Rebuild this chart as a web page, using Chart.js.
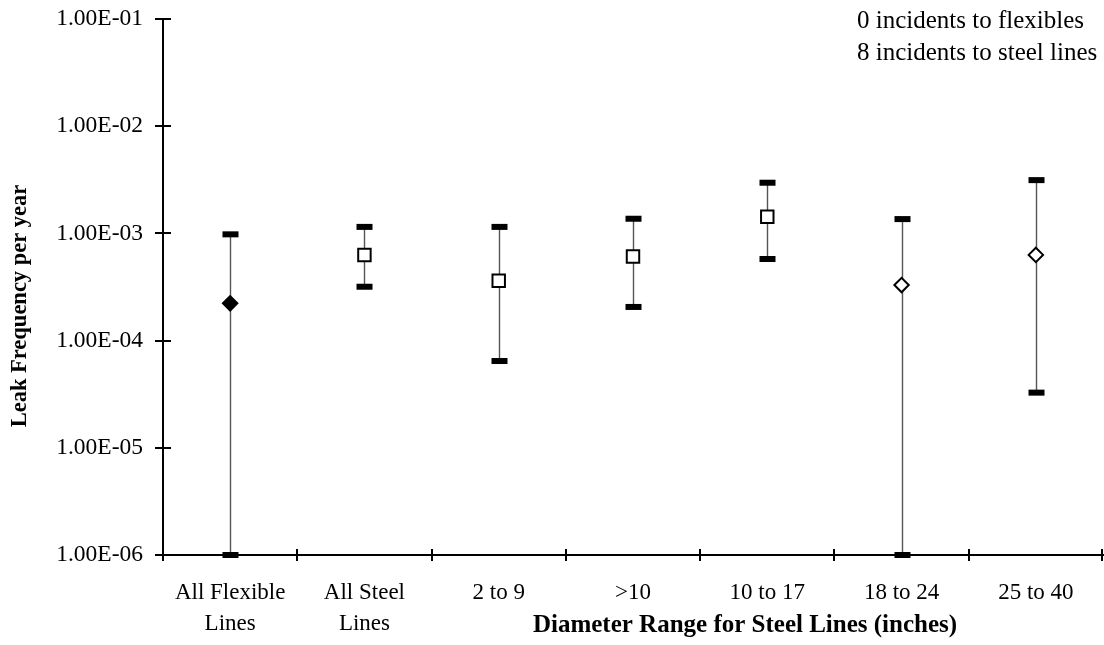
<!DOCTYPE html>
<html>
<head>
<meta charset="utf-8">
<script src="https://cdn.jsdelivr.net/npm/chart.js@4/dist/chart.umd.min.js"></script>
<style>
html,body{margin:0;padding:0;background:#fff;overflow:hidden;}
#c{display:block;}
</style>
</head>
<body>
<canvas id="c" width="1104" height="645"></canvas>
<script>
// ---- data ----
const categories = [['All Flexible','Lines'], ['All Steel','Lines'], '2 to 9', '>10', '10 to 17', '18 to 24', '25 to 40'];
const centralValues = [2.23e-4, 6.3e-4, 3.62e-4, 6.08e-4, 1.43e-3, 3.3e-4, 6.3e-4];
const lowerValues   = [1.0e-6, 3.18e-4, 6.45e-5, 2.06e-4, 5.77e-4, 1.0e-6, 3.27e-5];
const upperValues   = [9.8e-4, 1.15e-3, 1.15e-3, 1.37e-3, 2.97e-3, 1.36e-3, 3.14e-3];
const markerStyles  = ['rectRot', 'rect', 'rect', 'rect', 'rect', 'rectRot', 'rectRot'];
const markerFilled  = [true, false, false, false, false, false, false];
const yTickValues   = [1e-1, 1e-2, 1e-3, 1e-4, 1e-5, 1e-6];
const yTitle = 'Leak Frequency per year';
const xTitle = 'Diameter Range for Steel Lines (inches)';
const notes = ['0 incidents to flexibles', '8 incidents to steel lines'];

const FONT = '"Liberation Serif", "Times New Roman", serif';

function fmtE(v){
  const e = Math.round(Math.log10(v));
  const m = v / Math.pow(10, e);
  const sign = e < 0 ? '-' : '+';
  const ae = Math.abs(e);
  return m.toFixed(2) + 'E' + sign + (ae < 10 ? '0' + ae : ae);
}

// stretch the plot area to the right edge, as in the reference
const areaPlugin = {
  id: 'areaFix',
  afterLayout(chart){
    try {
      const a = chart.chartArea, xs = chart.scales.x;
      const R = chart.width - 1;
      a.right = R; a.width = R - a.left;
      xs.right = R; xs.width = R - xs.left;
      xs.configure();
    } catch (e) {}
  }
};

const errorBarPlugin = {
  id: 'errorBars',
  beforeDatasetsDraw(chart){
    const ctx = chart.ctx, xs = chart.scales.x, ys = chart.scales.y;
    ctx.save();
    for (let i = 0; i < categories.length; i++){
      const x = Math.round(xs.getPixelForValue(i)) + 0.5;
      const yl = ys.getPixelForValue(lowerValues[i]);
      const yu = ys.getPixelForValue(upperValues[i]);
      ctx.strokeStyle = '#555';
      ctx.lineWidth = 1.4;
      ctx.beginPath(); ctx.moveTo(x, yl); ctx.lineTo(x, yu); ctx.stroke();
      ctx.fillStyle = '#000';
      ctx.fillRect(x - 8, yl - 3, 16, 6);
      ctx.fillRect(x - 8, yu - 3, 16, 6);
    }
    ctx.restore();
  }
};

const axisDecorPlugin = {
  id: 'axisDecor',
  afterDraw(chart){
    const ctx = chart.ctx, xs = chart.scales.x, ys = chart.scales.y, a = chart.chartArea;
    ctx.save();
    ctx.strokeStyle = '#000';
    ctx.lineWidth = 2;
    // y ticks crossing the axis
    yTickValues.forEach(v => {
      const y = Math.round(ys.getPixelForValue(v));
      ctx.beginPath(); ctx.moveTo(a.left - 8, y); ctx.lineTo(a.left + 8, y); ctx.stroke();
    });
    // x ticks at category boundaries
    for (let i = 0; i <= categories.length; i++){
      let x = Math.round(xs.getPixelForValue(i - 0.5));
      if (i === categories.length) x -= 1;
      ctx.beginPath(); ctx.moveTo(x, a.bottom - 6); ctx.lineTo(x, a.bottom + 6); ctx.stroke();
    }
    // notes
    ctx.fillStyle = '#000';
    ctx.font = '25px ' + FONT;
    ctx.textBaseline = 'middle';
    ctx.textAlign = 'left';
    ctx.fillText(notes[0], 857, 21);
    ctx.fillText(notes[1], 857, 53);
    // axis titles
    ctx.font = 'bold 25px ' + FONT;
    ctx.textAlign = 'center';
    ctx.textBaseline = 'alphabetic';
    ctx.fillText(xTitle, 745, 632);
    ctx.font = 'bold 22.5px ' + FONT;
    ctx.textBaseline = 'middle';
    ctx.translate(20, 306);
    ctx.rotate(-Math.PI / 2);
    ctx.fillText(yTitle, 0, 0);
    ctx.restore();
  }
};

new Chart(document.getElementById('c'), {
  type: 'line',
  data: {
    labels: categories,
    datasets: [{
      data: centralValues,
      showLine: false,
      pointStyle: markerStyles,
      pointRadius: markerStyles.map(s => s === 'rect' ? 8.8 : 7.2),
      pointBackgroundColor: markerFilled.map(f => f ? '#000' : '#fff'),
      pointBorderColor: '#000',
      pointBorderWidth: 2,
      pointHoverRadius: 0
    }]
  },
  options: {
    responsive: false,
    animation: false,
    events: [],
    layout: { padding: { top: 19, right: 1, left: 0, bottom: 0 } },
    plugins: { legend: { display: false }, tooltip: { enabled: false } },
    scales: {
      x: {
        type: 'category',
        offset: true,
        grid: { display: false, drawTicks: false },
        border: { display: true, color: '#000', width: 2 },
        ticks: {
          color: '#000',
          font: { family: FONT, size: 23, lineHeight: 1.35 },
          padding: 22,
          maxRotation: 0,
          autoSkip: false
        },
        afterFit(s){ s.height = 90; s.paddingLeft = 0; s.paddingRight = 0; }
      },
      y: {
        type: 'logarithmic',
        min: 1e-6,
        max: 1e-1,
        grid: { display: false, drawTicks: false },
        border: { display: true, color: '#000', width: 2 },
        afterBuildTicks(s){ s.ticks = yTickValues.map(v => ({ value: v })); },
        ticks: {
          color: '#000',
          font: { family: FONT, size: 23.5 },
          padding: 20,
          callback: v => fmtE(v)
        },
        afterFit(s){ s.width = 163; s.paddingTop = 0; s.paddingBottom = 0; }
      }
    }
  },
  plugins: [areaPlugin, errorBarPlugin, axisDecorPlugin]
});
</script>
</body>
</html>
